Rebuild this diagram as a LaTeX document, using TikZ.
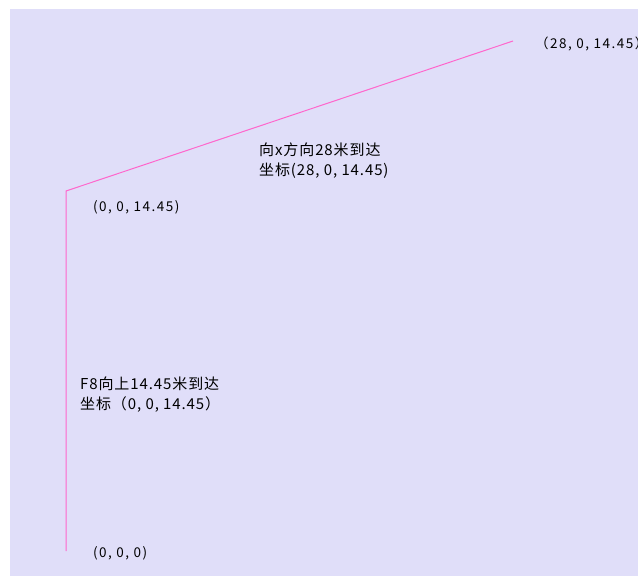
\documentclass[tikz,border=0pt]{standalone}
\usepackage{fontspec}
\usepackage{tikz}
\usepackage{xcolor}
\usetikzlibrary{positioning}
\newfontfamily\cjk[LetterSpace=6]{Noto Sans CJK SC}
\newfontfamily\cjkwide[LetterSpace=11]{Noto Sans CJK SC}
\definecolor{bgpanel}{RGB}{224,222,249}
\definecolor{pathpink}{RGB}{255,102,204}

\begin{document}
\begin{tikzpicture}[x=1pt,y=-1pt]
\tikzstyle{every node}+=[inner sep=0pt,anchor=west]
\tikzstyle{coordlabel}=[font=\cjkwide\fontsize{13.5}{16}\selectfont]
\tikzstyle{steplabel}=[font=\cjk\fontsize{15}{20}\selectfont,align=left]
\useasboundingbox (0,0) rectangle (638,576);
\fill [bgpanel] (10,9) rectangle (638,576);
\coordinate (origin) at (66,551);
\coordinate (bend) at (66,191);
\coordinate (tip) at (513,41);
\draw [pathpink,line width=1pt] (origin) -- (bend) -- (tip);
\node [coordlabel] (originlabel) at (93,553) {(0, 0, 0)};
\node [coordlabel] (bendlabel) at (93,207) {(0, 0, 14.45)};
\node [coordlabel] (tiplabel) at (535,44) {（28, 0, 14.45）};
\node [steplabel] (uplabel) at (80,395) {F8向上14.45米到达\\坐标（0, 0, 14.45）};
\node [steplabel] (xlabel) at (259,161) {向x方向28米到达\\坐标(28, 0, 14.45)};
\end{tikzpicture}
\end{document}
